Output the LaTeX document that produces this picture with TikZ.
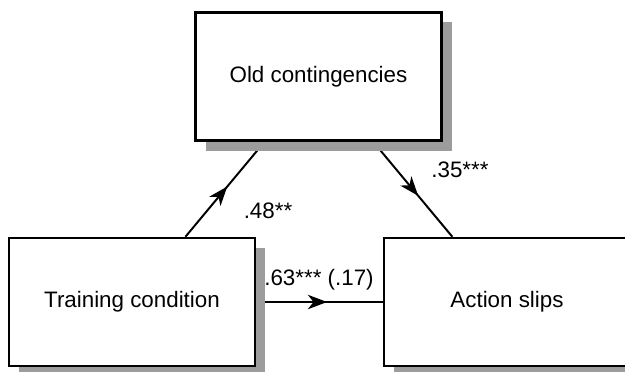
\documentclass[tikz,border=0pt]{standalone}
\usepackage{fontspec}
\setmainfont{Liberation Sans}
\usetikzlibrary{arrows.meta,positioning,calc,shadows,backgrounds,decorations.markings}
\definecolor{shadowGray}{HTML}{9C9C9C}

\begin{document}
\begin{tikzpicture}[x=0.025cm,y=-0.025cm,font=\fontsize{15.9}{19}\selectfont,
  varbox/.style={draw,line width=1.7pt,fill=white,inner sep=0pt,
                 minimum width=6.15cm,minimum height=3.2cm,
                 drop shadow={shadow xshift=0.26cm,shadow yshift=-0.25cm,
                              fill=shadowGray,opacity=1}},
  midarrow/.style={line width=1.4pt,postaction={decorate},
                   decoration={markings,mark=at position #1 with
                     {\arrow{Stealth[length=0.48cm,width=0.36cm,inset=0.14cm]}}}}]
  \useasboundingbox (0,0) rectangle (625,371);

  % the three variables
  \node[varbox] (old)   at (318.5,76.5) {Old contingencies};
  \node[varbox] (train) at (132,302)    {Training condition};
  \node[varbox] (slips) at (507,302)    {Action slips};

  % paths, kept behind the boxes and their shadows
  \begin{scope}[on background layer]
    \draw[midarrow=0.53] ($(train.north west)!0.715!(train.north east)$)
      -- ($(old.south west)!0.283!(old.south east)$);
    \draw[midarrow=0.57] ($(old.south west)!0.72!(old.south east)$)
      -- ($(slips.north west)!0.28!(slips.north east)$);
    \draw[midarrow=0.56] (train.east) -- (slips.west);
  \end{scope}

  % coefficients
  \node (coefA)  at (268,211) {.48**};
  \node (coefB)  at (460,170) {.35***};
  \node (coefC)  at (319,280) {.63*** (.17)};
\end{tikzpicture}
\end{document}
